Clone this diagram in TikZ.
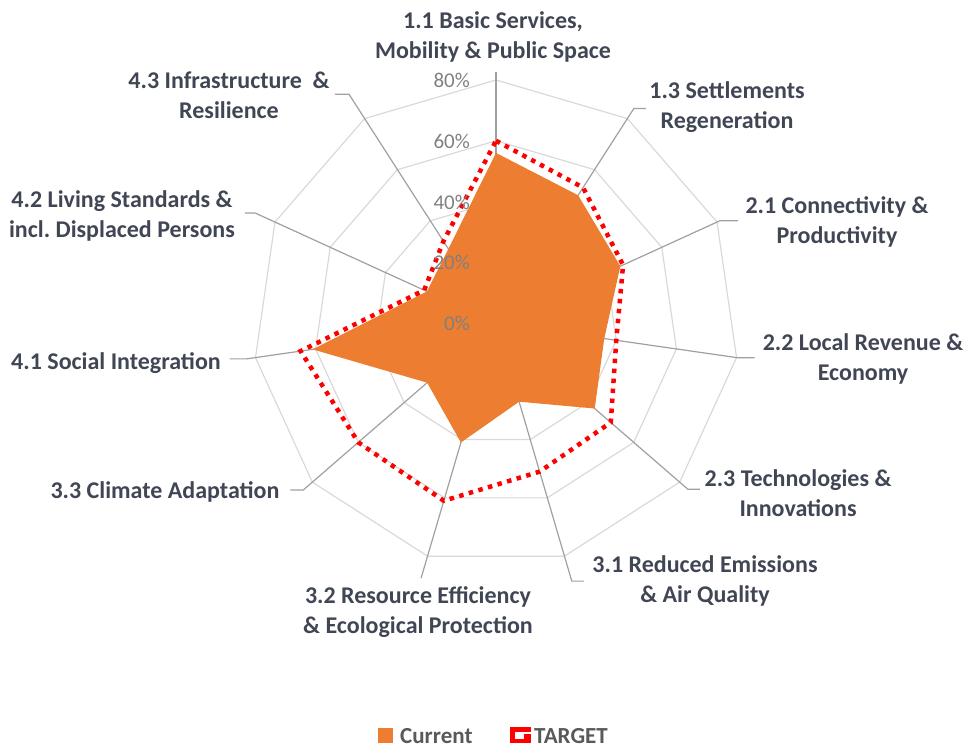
\documentclass[tikz,border=0pt]{standalone}
\usepackage{fontspec}
\setmainfont{Carlito}
\frenchspacing
\definecolor{orangefill}{HTML}{ED7D31}
\definecolor{gridc}{HTML}{D9D9D9}
\definecolor{axisc}{HTML}{A0A0A0}
\definecolor{labc}{HTML}{404654}
\definecolor{pctc}{HTML}{808080}
\definecolor{legc}{HTML}{595959}
\definecolor{tgtred}{HTML}{FF0000}
\begin{document}
\begin{tikzpicture}[x=1pt,y=1pt,
  lab/.style={font=\fontsize{24}{30}\selectfont\bfseries, text=labc, align=center, inner sep=0pt},
  pct/.style={font=\fontsize{21}{24}\selectfont, text=pctc, anchor=east, inner sep=0pt},
  ring/.style={draw=gridc, line width=1.2pt},
  axisline/.style={draw=axisc, line width=1.2pt},
  tgtline/.style={draw=tgtred, line width=4.5pt, dash pattern=on 4.5pt off 5.5pt},
  legtext/.style={font=\fontsize{23}{28}\selectfont\bfseries, text=legc, anchor=base west, inner sep=0pt}]
\useasboundingbox (0,0) rectangle (968,-747);
\coordinate (C) at (496,-323);
\begin{scope}[shift={(C)}]
  % grid rings
  \foreach \r in {60.75,121.5,182.25,243} {
    \draw[ring] (90:\r) \foreach \k in {1,...,10} { -- ({90-\k*360/11}:\r) } -- cycle;
  }
  % axes with leaders
  \foreach \k/\rr/\dx in {0/251/0, 1/255/12, 2/246/18, 3/244/17, 4/254/12, 5/269/12, 6/266/0, 7/255/-13, 8/252/-17, 9/265/-10, 10/272/-14} {
    \coordinate (k\k) at ({90-\k*360/11}:\rr);
    \draw[axisline] (0,0) -- (k\k) -- ++(\dx,0);
  }
  % data points
  \foreach \v [count=\i from 0] in {56,50,45,36,43,27,41,30,61,25,29} {
    \coordinate (cur\i) at ({90-\i*360/11}:{\v*3.0375});
  }
  \foreach \v [count=\i from 0] in {60,53,46,40,50,51,61,60,65,26,32} {
    \coordinate (tgt\i) at ({90-\i*360/11}:{\v*3.0375});
  }
\end{scope}
% current series
\fill[orangefill] (cur0) -- (cur1) -- (cur2) -- (cur3) -- (cur4) -- (cur5) -- (cur6) -- (cur7) -- (cur8) -- (cur9) -- (cur10) -- cycle;
% target series
\draw[tgtline] (tgt0) -- (tgt1) -- (tgt2) -- (tgt3) -- (tgt4) -- (tgt5) -- (tgt6) -- (tgt7) -- (tgt8) -- (tgt9) -- (tgt10) -- cycle;
% percentage labels
\node[pct] (p80) at (470,-80) {80\%};
\node[pct] (p60) at (470,-141) {60\%};
\node[pct] (p40) at (470,-202) {40\%};
\node[pct] (p20) at (470,-262) {20\%};
\node[pct] (p0) at (470,-323) {0\%};
% category labels
\node[lab] (l11) at (493,-37) {1.1 Basic Services,\\Mobility \& Public Space};
\node[lab] (l13) at (727,-107) {1.3 Settlements\\Regeneration};
\node[lab] (l21) at (837,-222) {2.1 Connectivity \&\\Productivity};
\node[lab] (l22) at (863,-359) {2.2 Local Revenue \&\\Economy};
\node[lab] (l23) at (798,-493) {2.3 Technologies \&\\Innovations};
\node[lab] (l31) at (705,-581) {3.1 Reduced Emissions\\\& Air Quality};
\node[lab] (l32) at (418,-612) {3.2 Resource Efficiency\\\& Ecological Protection};
\node[lab] (l33) at (165,-492) {3.3 Climate Adaptation};
\node[lab] (l41) at (116,-363) {4.1 Social Integration};
\node[lab] (l42) at (122,-216) {4.2 Living Standards \&\\incl. Displaced Persons};
\node[lab] (l43) at (229,-95) {4.3 Infrastructure~ \&\\Resilience};
% legend
\fill[orangefill] (378,-728) rectangle (393,-743);
\node[legtext] (lcur) at (400,-743) {Current};
\draw[tgtred, line width=4.5pt] (531,-729.5) -- (512.5,-729.5) -- (512.5,-741) -- (526,-741);
\fill[tgtred] (524,-734) rectangle (530.5,-743.2);
\node[legtext] (ltgt) at (534,-743) {TARGET};
\end{tikzpicture}
\end{document}
